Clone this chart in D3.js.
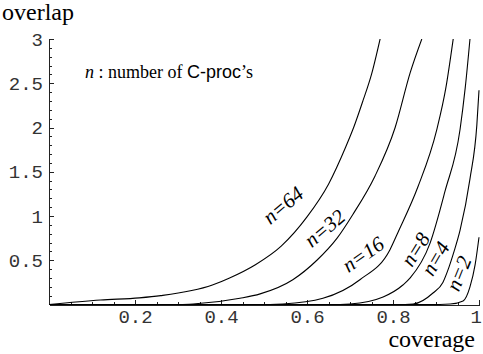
<!DOCTYPE html>
<html>
<head>
<meta charset="utf-8">
<script src="https://cdn.jsdelivr.net/npm/d3@7"></script>
<style>
  html, body { margin: 0; padding: 0; background: #fff; }
  svg { display: block; }
  .axis path, .axis line { stroke: #222; stroke-width: 1; shape-rendering: crispEdges; }
  .axis text { font-family: "Liberation Mono", "DejaVu Sans Mono", monospace; font-size: 19px; fill: #333; }
  .curve { fill: none; stroke: #000; stroke-width: 1.1; }
  .lbl { font-family: "Liberation Serif", "DejaVu Serif", serif; font-size: 21px; font-style: italic; fill: #000; }
  .title { font-family: "Liberation Serif", "DejaVu Serif", serif; fill: #000; }
</style>
</head>
<body>
<div id="chart"></div>
<script>
// values: coverage -> overlap for each number of C-procs
var seriesNames = ["n=64", "n=32", "n=16", "n=8", "n=4", "n=2"];

var cov64 = [0, 0.12, 0.21, 0.26, 0.38, 0.42, 0.48, 0.54, 0.60, 0.65, 0.69, 0.71, 0.73, 0.75, 0.77];
var ovl64 = [0, 0.05, 0.075, 0.10, 0.22, 0.30, 0.45, 0.66, 0.99, 1.36, 1.78, 2.02, 2.30, 2.60, 3.0];

var cov32 = [0, 0.305, 0.335, 0.444, 0.491, 0.567, 0.623, 0.670, 0.707, 0.758, 0.805, 0.840, 0.867];
var ovl32 = [0, 0, 0.005, 0.07, 0.12, 0.28, 0.50, 0.75, 1.02, 1.45, 2.00, 2.62, 3.0];

var cov16 = [0, 0.514, 0.544, 0.637, 0.723, 0.793, 0.812, 0.858, 0.902, 0.923, 0.940];
var ovl16 = [0, 0, 0.005, 0.07, 0.28, 0.62, 0.82, 1.33, 1.98, 2.45, 3.0];

var cov8 = [0, 0.677, 0.70, 0.777, 0.823, 0.840, 0.886, 0.921, 0.956, 0.968, 0.979];
var ovl8 = [0, 0, 0.005, 0.085, 0.22, 0.30, 0.69, 1.28, 1.98, 2.45, 3.0];

var cov4 = [0, 0.828, 0.847, 0.893, 0.916, 0.930, 0.942, 0.956, 0.979, 0.995, 1.0];
var ovl4 = [0, 0, 0.005, 0.13, 0.25, 0.42, 0.60, 0.84, 1.42, 2.03, 2.42];

var cov2 = [0, 0.909, 0.933, 0.963, 0.979, 0.991, 1.0];
var ovl2 = [0, 0, 0.005, 0.04, 0.20, 0.45, 0.76];

var xTicks = [0.2, 0.4, 0.6, 0.8, 1];
var xTickLabels = ["0.2", "0.4", "0.6", "0.8", "1"];
var yTicks = [0.5, 1, 1.5, 2, 2.5, 3];
var yTickLabels = ["0.5", "1", "1.5", "2", "2.5", "3"];

// label anchor (coverage, overlap) and angle for each curve label
var labelCov = [0.555, 0.652, 0.74, 0.866, 0.913, 0.968];
var labelOvl = [1.06, 0.80, 0.50, 0.58, 0.48, 0.32];
var labelAngle = [-40, -40, -35, -58, -60, -68];

var width = 483, height = 354;

var svg = d3.select("#chart")
  .append("svg")
    .attr("width", width)
    .attr("height", height);

var x = d3.scaleLinear().domain([0, 1]).range([49, 479]),
    y = d3.scaleLinear().domain([0, 3]).range([304.5, 39]);

svg.append("defs").append("clipPath")
    .attr("id", "clip")
  .append("rect")
    .attr("x", x(0))
    .attr("y", y(3))
    .attr("width", x(1) - x(0) + 3)
    .attr("height", y(0) - y(3) + 1);

// minor ticks
svg.append("g")
  .attr("class", "axis")
  .attr("transform", `translate(0,${y(0)})`)
  .call(d3.axisBottom(x).tickValues(d3.range(0.05, 1.001, 0.05)).tickSizeInner(-2.5).tickSizeOuter(0).tickFormat(""));

svg.append("g")
  .attr("class", "axis")
  .attr("transform", `translate(${x(0)},0)`)
  .call(d3.axisLeft(y).tickValues(d3.range(0.1, 3.001, 0.1)).tickSizeInner(-2.5).tickSizeOuter(0).tickFormat(""));

// major ticks
var gx = svg.append("g")
  .attr("class", "axis")
  .attr("transform", `translate(0,${y(0)})`)
  .call(d3.axisBottom(x).tickValues(xTicks).tickSizeInner(-5).tickSizeOuter(0).tickPadding(5)
    .tickFormat((d, i) => xTickLabels[i]));

// keep the last label inside the window
gx.selectAll(".tick text").filter(d => d === 1)
  .attr("text-anchor", "end")
  .attr("dx", "0.12em");

svg.append("g")
  .attr("class", "axis")
  .attr("transform", `translate(${x(0)},0)`)
  .call(d3.axisLeft(y).tickValues(yTicks).tickSizeInner(-5).tickSizeOuter(0).tickPadding(6)
    .tickFormat((d, i) => yTickLabels[i]));

var covs = [cov64, cov32, cov16, cov8, cov4, cov2],
    ovls = [ovl64, ovl32, ovl16, ovl8, ovl4, ovl2];

var line = d3.line()
  .x(d => x(d[0]))
  .y(d => y(d[1]))
  .curve(d3.curveMonotoneX);

svg.append("g")
  .attr("clip-path", "url(#clip)")
  .selectAll(".curve")
  .data(covs.map((c, i) => c.map((v, j) => [v, ovls[i][j]])))
.enter().append("path")
  .attr("class", "curve")
  .attr("d", line);

svg.selectAll(".lbl")
  .data(seriesNames)
.enter().append("text")
  .attr("class", "lbl")
  .attr("text-anchor", "middle")
  .attr("transform", (d, i) => `translate(${x(labelCov[i])},${y(labelOvl[i])}) rotate(${labelAngle[i]})`)
  .text(d => d);

// key text
var key = svg.append("text")
  .attr("class", "title")
  .attr("x", 85)
  .attr("y", 78)
  .style("font-size", "18px");
key.append("tspan").style("font-style", "italic").text("n");
key.append("tspan").text(" : number of ");
key.append("tspan").style("font-family", "'Liberation Sans', Arial, sans-serif").text("C-proc");
key.append("tspan").text("\u2019s");

svg.append("text")
  .attr("class", "title")
  .attr("x", 2)
  .attr("y", 20)
  .style("font-size", "24px")
  .text("overlap");

svg.append("text")
  .attr("class", "title")
  .attr("x", 475)
  .attr("y", 347)
  .attr("text-anchor", "end")
  .style("font-size", "24px")
  .text("coverage");
</script>
</body>
</html>
